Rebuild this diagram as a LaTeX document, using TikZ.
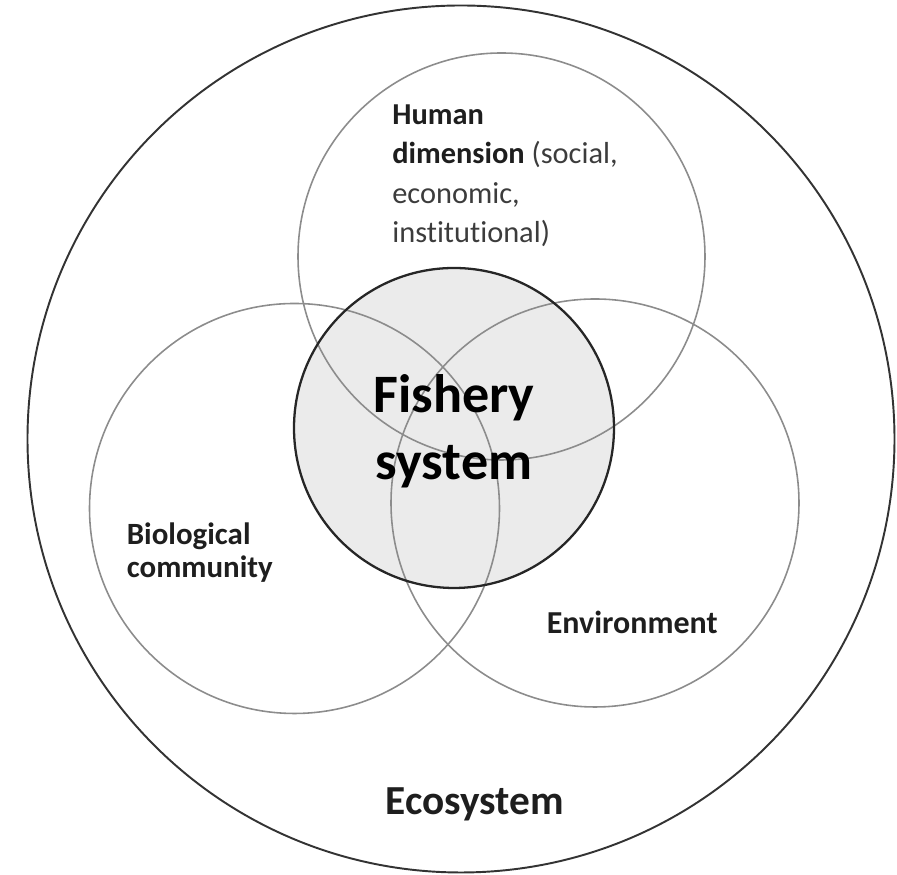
\documentclass[tikz,border=0pt]{standalone}
\usepackage{fontspec}
\setmainfont[Ligatures=NoCommon]{Carlito}
\definecolor{ringgray}{HTML}{8C8C8C}
\definecolor{corefill}{HTML}{EBEBEB}
\definecolor{textdark}{HTML}{1E1E1E}
\definecolor{textsoft}{HTML}{3C3C3C}
\begin{document}
\begin{tikzpicture}[
    ring/.style={draw=ringgray, line width=0.9pt},
    lbl/.style={inner sep=0pt, align=left, text=textdark, font=\bfseries}
  ]
  \useasboundingbox (0,0) rectangle (17.94,17.5);
  % core of the diagram
  \fill[corefill] (9.08,8.94) circle (3.2);
  % the three overlapping parts
  \draw[ring] (10.03,12.37) circle (4.07);
  \draw[ring] (5.89,7.33) circle (4.1);
  \draw[ring] (11.90,7.44) circle (4.08);
  \draw[draw=black!85, line width=1.3pt] (9.08,8.94) circle (3.2);
  % whole ecosystem
  \draw[draw=black!80, line width=1.1pt] (9.22,8.72) circle (8.67);

  \node[lbl, anchor=north west, font=\fontsize{17.3}{22.5}\selectfont\bfseries] (human) at (7.84,15.42)
    {Human\\dimension \textcolor{textsoft}{\mdseries (social,}\\\textcolor{textsoft}{\mdseries economic,}\\\textcolor{textsoft}{\mdseries institutional)}};
  \node[lbl, align=center, font=\fontsize{30.8}{38}\selectfont\bfseries, text=black] (fishery) at (9.08,8.87) {Fishery\\system};
  \node[lbl, anchor=north west, font=\fontsize{17.6}{18.6}\selectfont\bfseries] (bio) at (2.53,7.05) {Biological\\community};
  \node[lbl, anchor=base west, font=\fontsize{18.2}{20}\selectfont\bfseries] (env) at (10.93,4.82) {Environment};
  \node[lbl, anchor=base, font=\fontsize{23.5}{26}\selectfont\bfseries] (eco) at (9.49,1.21) {Ecosystem};
\end{tikzpicture}
\end{document}
